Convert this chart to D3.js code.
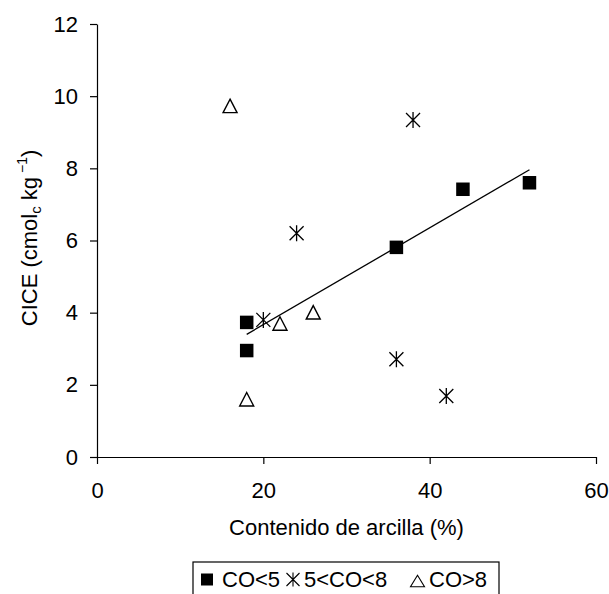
<!DOCTYPE html>
<html>
<head>
<meta charset="utf-8">
<script src="https://cdn.jsdelivr.net/npm/d3@7"></script>
<style>
  html, body { margin: 0; padding: 0; background: #fff; }
  svg { display: block; }
  text { font-family: "Liberation Sans", Arial, sans-serif; fill: #000; }
</style>
</head>
<body>
<svg id="chart" width="609" height="594"></svg>
<script>
// ---- data ----
const clayCO5 = [18, 18, 36, 44, 52];
const ciceCO5 = [3.73, 2.95, 5.81, 7.42, 7.60];
const clayCO58 = [20, 24, 36, 38, 42];
const ciceCO58 = [3.80, 6.20, 2.71, 9.34, 1.69];
const clayCO8 = [16, 18, 22, 26];
const ciceCO8 = [9.73, 1.60, 3.70, 4.01];
const trendX = [18, 52];
const trendY = [3.40, 7.96];
const xTicks = [0, 20, 40, 60];
const yTicks = [0, 2, 4, 6, 8, 10, 12];
const seriesNames = ["CO<5", "5<CO<8", "CO>8"];
const xTitle = "Contenido de arcilla (%)";

// ---- layout ----
const svg = d3.select("#chart");
const plotL = 97, plotR = 596, plotT = 24, plotB = 457;
const fs = 22;

const x = d3.scaleLinear().domain([0, 60]).range([plotL, plotR]);
const y = d3.scaleLinear().domain([0, 12]).range([plotB, plotT]);

// axes
const xAxis = d3.axisBottom(x).tickValues(xTicks).tickSizeInner(7).tickSizeOuter(0).tickPadding(18);
const yAxis = d3.axisLeft(y).tickValues(yTicks).tickSizeInner(7).tickSizeOuter(0).tickPadding(12);

const gx = svg.append("g").attr("transform", `translate(0,${plotB})`).call(xAxis);
const gy = svg.append("g").attr("transform", `translate(${plotL},0)`).call(yAxis);
[gx, gy].forEach(g => {
  g.selectAll("path.domain").attr("stroke", "#000").attr("stroke-width", 1.2);
  g.selectAll(".tick line").attr("stroke", "#000").attr("stroke-width", 1.2);
  g.selectAll(".tick text").attr("font-size", fs).attr("font-family", "Liberation Sans, Arial, sans-serif").attr("fill", "#000");
});

// axis titles
svg.append("text")
  .attr("x", (plotL + plotR) / 2).attr("y", 535)
  .attr("text-anchor", "middle").attr("font-size", fs)
  .text(xTitle);

const yt = svg.append("text")
  .attr("transform", `translate(37,238) rotate(-90)`)
  .attr("text-anchor", "middle").attr("font-size", fs);
yt.append("tspan").text("CICE (cmol");
yt.append("tspan").attr("font-size", 15).attr("dy", 4).text("c");
yt.append("tspan").attr("dy", -4).text(" kg");
yt.append("tspan").attr("font-size", 14).attr("dy", -10).text(" \u22121");
yt.append("tspan").attr("dy", 10).text(")");

// trend line
svg.append("line")
  .attr("x1", x(trendX[0])).attr("y1", y(trendY[0]))
  .attr("x2", x(trendX[1])).attr("y2", y(trendY[1]))
  .attr("stroke", "#000").attr("stroke-width", 1.3);

// marker generators
function square(g, s) {
  g.append("rect").attr("x", -s / 2).attr("y", -s / 2).attr("width", s).attr("height", s).attr("fill", "#000");
}
function asterisk(g, h, d, sw) {
  const p = `M0,${-h}L0,${h}M${-d},${-d}L${d},${d}M${-d},${d}L${d},${-d}`;
  g.append("path").attr("d", p).attr("stroke", "#000").attr("stroke-width", sw).attr("fill", "none");
}
function triangle(g, w, h, sw) {
  g.append("path").attr("d", `M0,${-h / 2}L${w / 2},${h / 2}L${-w / 2},${h / 2}Z`)
    .attr("fill", "#fff").attr("stroke", "#000").attr("stroke-width", sw).attr("stroke-linejoin", "miter");
}

// points
const d1 = clayCO5.map((v, i) => [v, ciceCO5[i]]);
const d2 = clayCO58.map((v, i) => [v, ciceCO58[i]]);
const d3s = clayCO8.map((v, i) => [v, ciceCO8[i]]);

svg.append("g").selectAll("g").data(d1).join("g")
  .attr("transform", d => `translate(${x(d[0])},${y(d[1])})`)
  .each(function () { square(d3.select(this), 13.5); });

svg.append("g").selectAll("g").data(d2).join("g")
  .attr("transform", d => `translate(${x(d[0])},${y(d[1])})`)
  .each(function () { asterisk(d3.select(this), 8, 7, 1.3); });

svg.append("g").selectAll("g").data(d3s).join("g")
  .attr("transform", d => `translate(${x(d[0])},${y(d[1])})`)
  .each(function () { triangle(d3.select(this), 14, 13.5, 1.4); });

// legend
const lg = svg.append("g");
lg.append("rect").attr("x", 193).attr("y", 562).attr("width", 306).attr("height", 40)
  .attr("fill", "#fff").attr("stroke", "#000").attr("stroke-width", 1.2);
const baseY = 587;
const ls = lg.append("g").attr("transform", `translate(207,${baseY - 7.5})`);
square(ls, 12);
lg.append("text").attr("x", 222).attr("y", baseY).attr("font-size", fs).text(seriesNames[0]);
const la = lg.append("g").attr("transform", `translate(293,${baseY - 7.5})`);
asterisk(la, 7, 6.5, 1.1);
lg.append("text").attr("x", 304).attr("y", baseY).attr("font-size", fs).text(seriesNames[1]);
const lt = lg.append("g").attr("transform", `translate(417.5,${baseY - 6})`);
triangle(lt, 14, 11.5, 1.1);
lg.append("text").attr("x", 429).attr("y", baseY).attr("font-size", fs).text(seriesNames[2]);
</script>
</body>
</html>
